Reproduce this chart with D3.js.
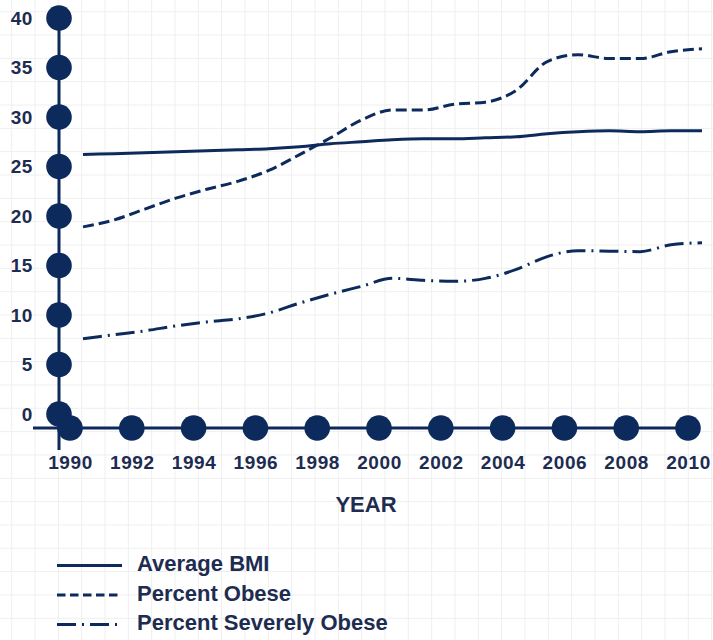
<!DOCTYPE html>
<html>
<head>
<meta charset="utf-8">
<script src="https://cdn.jsdelivr.net/npm/d3@7"></script>
<style>
  body { margin: 0; background: #fff; }
  svg { display: block; font-family: "Liberation Sans", Arial, sans-serif; }
</style>
</head>
<body>
<svg id="chart" width="713" height="640"></svg>
<script>
// values
var years = d3.range(1990, 2011);
var averageBmi = [26.2, 26.3, 26.4, 26.5, 26.6, 26.7, 26.8, 27.0, 27.3, 27.5, 27.7,
	27.8, 27.8, 27.9, 28.0, 28.3, 28.5, 28.6, 28.5, 28.6, 28.6];
var percentObese = [18.9, 19.6, 20.7, 21.8, 22.7, 23.5, 24.6, 26.2, 27.9, 29.7, 30.7,
	30.7, 31.3, 31.5, 32.7, 35.6, 36.3, 35.9, 35.9, 36.6, 36.9];
var percentSeverelyObese = [7.6, 8.0, 8.4, 8.9, 9.3, 9.6, 10.2, 11.2, 12.1, 12.9, 13.7,
	13.5, 13.4, 13.7, 14.6, 15.9, 16.5, 16.45, 16.4, 17.1, 17.3];
var yearTicks = d3.range(1990, 2011, 2);
var valueTicks = d3.range(0, 41, 5);
var seriesNames = ["Average BMI", "Percent Obese", "Percent Severely Obese"];
var seriesDash = [null, "11,5", "19,6,2,6"];

var navy = "#0c2a5b";
var textColor = "#1d2c50";

var svg = d3.select("#chart");
var width = 713, height = 640;

// faint background grid
var gridStep = 23.33;
var grid = svg.append("g").attr("class", "grid");
grid.selectAll(".gv").data(d3.range(11.7, width, gridStep)).enter().append("line")
	.attr("x1", d => d).attr("x2", d => d).attr("y1", 0).attr("y2", height)
	.attr("stroke", "#efefef").attr("stroke-width", 1);
grid.selectAll(".gh").data(d3.range(11.7, height, gridStep)).enter().append("line")
	.attr("y1", d => d).attr("y2", d => d).attr("x1", 0).attr("x2", width)
	.attr("stroke", "#efefef").attr("stroke-width", 1);

var x = d3.scaleLinear().domain([1990, 2010]).range([70, 688]);
var xLine = d3.scaleLinear().domain([1990, 2010]).range([83, 702]);
var y = d3.scaleLinear().domain([0, 40]).range([414, 18]);

var axisY = 59, axisX = 428;

// axis lines
svg.append("line")
	.attr("x1", axisY).attr("x2", axisY).attr("y1", y(40)).attr("y2", 450)
	.attr("stroke", navy).attr("stroke-width", 3);
svg.append("line")
	.attr("x1", 33).attr("x2", x(2010)).attr("y1", axisX).attr("y2", axisX)
	.attr("stroke", navy).attr("stroke-width", 3);

// tick labels through d3 axes
var yAxis = svg.append("g")
	.attr("transform", "translate(" + axisY + ",0)")
	.call(d3.axisLeft(y).tickValues(valueTicks).tickSize(0).tickPadding(26));
var xAxis = svg.append("g")
	.attr("transform", "translate(0," + axisX + ")")
	.call(d3.axisBottom(x).tickValues(yearTicks).tickFormat(d3.format("d")).tickSize(0).tickPadding(28));
[yAxis, xAxis].forEach(function(a) {
	a.select(".domain").remove();
	a.selectAll("text")
		.attr("fill", textColor)
		.style("font-size", "19px")
		.style("font-weight", "600")
		.style("letter-spacing", "0.6px");
});

// dots on the axes
svg.append("g").selectAll("circle").data(valueTicks).enter().append("circle")
	.attr("cx", axisY).attr("cy", d => y(d)).attr("r", 12.8).attr("fill", navy);
svg.append("g").selectAll("circle").data(yearTicks).enter().append("circle")
	.attr("cx", d => x(d)).attr("cy", axisX).attr("r", 12.8).attr("fill", navy);

// series lines
var allSeries = [averageBmi, percentObese, percentSeverelyObese];
var line = d3.line()
	.x((d, i) => xLine(years[i]))
	.y(d => y(d))
	.curve(d3.curveMonotoneX);

svg.append("g").selectAll("path").data(allSeries).enter().append("path")
	.attr("d", line)
	.attr("fill", "none")
	.attr("stroke", navy)
	.attr("stroke-width", 3)
	.attr("stroke-dasharray", (d, i) => seriesDash[i]);

// axis title
svg.append("text")
	.attr("x", 366).attr("y", 512)
	.attr("text-anchor", "middle")
	.attr("fill", textColor)
	.style("font-size", "22px")
	.style("font-weight", "bold")
	.text("YEAR");

// legend
var legend = svg.append("g").attr("transform", "translate(57,571)");
var rows = legend.selectAll("g").data(seriesNames).enter().append("g")
	.attr("transform", (d, i) => "translate(0," + (i * 29.5) + ")");
rows.append("line")
	.attr("x1", 0).attr("x2", 65).attr("y1", -5.5).attr("y2", -5.5)
	.attr("stroke", navy).attr("stroke-width", 3)
	.attr("stroke-dasharray", (d, i) => i == 1 ? "8.5,4.5" : seriesDash[i]);
rows.append("text")
	.attr("x", 80).attr("y", 0)
	.attr("fill", textColor)
	.style("font-size", "22px")
	.style("font-weight", "bold")
	.text(d => d);
</script>
</body>
</html>
